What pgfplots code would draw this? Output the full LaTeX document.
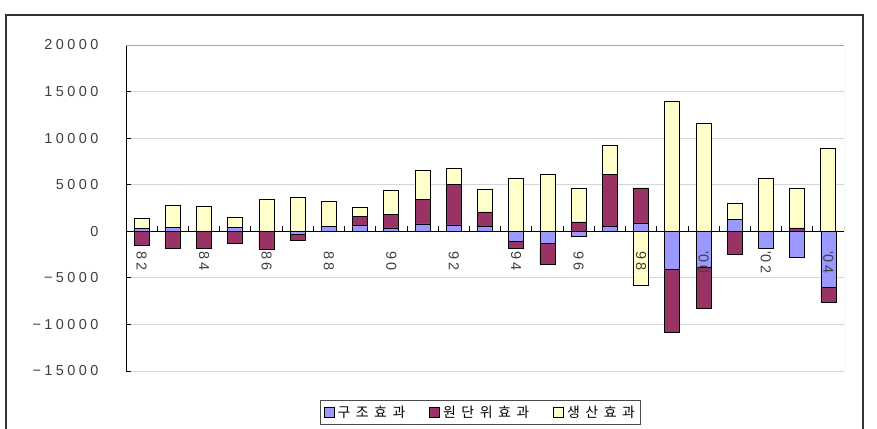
\documentclass[border=0pt]{standalone}
\usepackage{fontspec}
\setmainfont{Liberation Sans}
\newfontfamily\tickfont[LetterSpace=24]{Liberation Sans}
\newfontfamily\krfont{Noto Sans CJK KR}
\usepackage{pgfplots}
\usepackage{pgfplotstable}
\pgfplotsset{compat=1.18}
\definecolor{cblue}{HTML}{9999FF}
\definecolor{cmag}{HTML}{993366}
\definecolor{cyel}{HTML}{FFFFCC}
\definecolor{gridc}{HTML}{D4D4D4}
\definecolor{borderc}{HTML}{A6A6A6}
\definecolor{txt}{HTML}{404040}
\newcommand\ks{\kern5.5bp}

\pgfplotstableread{
x bp mp yp
0 350 0 1010
1 430 0 2330
2 0 0 2720
3 430 0 1110
4 0 0 3470
5 0 0 3650
6 500 0 2720
7 640 970 930
8 360 1430 2650
9 790 2610 3110
10 680 4330 1790
11 500 1580 2430
12 0 0 5650
13 0 0 6160
14 0 1000 3650
15 540 5540 3150
16 900 3750 0
17 0 0 13920
18 0 0 11600
19 1250 0 1720
20 0 0 5730
21 0 360 4290
22 0 0 8950
}\pos

\pgfplotstableread{
x bn mn yn
0 0 -1500 0
1 0 -1830 0
2 0 -1830 0
3 0 -1290 0
4 0 -1930 0
5 -300 -670 0
6 0 0 0
7 0 0 0
8 0 0 0
9 0 0 0
10 0 0 0
11 0 0 0
12 -1110 -680 0
13 -1250 -2260 0
14 -540 0 0
15 0 0 0
16 0 0 -5800
17 -4040 -6770 0
18 -3830 -4470 0
19 0 -2430 0
20 -1790 0 0
21 -2790 0 0
22 -5980 -1610 0
}\neg

\begin{document}
\begin{tikzpicture}
\useasboundingbox (0,0) rectangle (877bp,429bp);
% outer chart frame
\draw[line width=1.4bp, color=black!80] (6bp,-2bp) -- (6bp,414bp) -- (863bp,414bp) -- (863bp,-2bp);

\begin{axis}[
  at={(126bp,58bp)}, anchor=south west,
  scale only axis, width=718bp, height=326bp,
  xmin=-0.5, xmax=22.5, ymin=-15000, ymax=20000,
  axis x line=none, axis y line*=left,
  y axis line style={black, line width=0.8bp},
  ytick={-15000,-10000,...,20000},
  yticklabels={−15000,−10000,−5000,0,5000,10000,15000,20000},
  scaled y ticks=false,
  ymajorgrids, grid style={gridc, line width=0.8bp},
  major tick length=5bp, ytick style={black, line width=0.8bp},
  tick align=inside,
  yticklabel style={font=\tickfont\fontsize{14.5}{14.5}\selectfont, text=txt, xshift=-24bp},
  ybar stacked, bar width=15bp,
  legend style={at={(0.4935,-0.127)}, anchor=center, legend columns=-1,
    draw=black!70, line width=0.8bp, font=\krfont\fontsize{14}{14}\selectfont,
    inner xsep=3bp, inner ysep=3bp,
    /tikz/every odd column/.append style={column sep=1bp},
    /tikz/every even column/.append style={column sep=22bp}},
  legend image code/.code={\draw[#1, draw=black, line width=0.8bp] (0bp,-5bp) rectangle (10bp,5bp);},
]
\draw[borderc, line width=0.8bp] (rel axis cs:0,0) -- (rel axis cs:1,0) -- (rel axis cs:1,1) -- (rel axis cs:0,1);
\addplot[fill=cblue, draw=black, line width=0.8bp] table[x=x, y=bp] {\pos};
\addplot[fill=cmag, draw=black, line width=0.8bp] table[x=x, y=mp] {\pos};
\addplot[fill=cyel, draw=black, line width=0.8bp] table[x=x, y=yp] {\pos};
\legend{구\ks 조\ks 효\ks 과, 원\ks 단\ks 위\ks 효\ks 과, 생\ks 산\ks 효\ks 과}
\end{axis}

\begin{axis}[
  at={(126bp,58bp)}, anchor=south west,
  scale only axis, width=718bp, height=326bp,
  xmin=-0.5, xmax=22.5, ymin=-15000, ymax=20000,
  axis x line*=middle, axis y line=none,
  x axis line style={black, line width=0.9bp},
  axis on top,
  xtick={0,2,...,22},
  xticklabels={82,84,86,88,90,92,94,96,98,\mbox{\textquotesingle 00},\mbox{\textquotesingle 02},\mbox{\textquotesingle 04}},
  major tick length=0pt,
  xticklabel style={font=\tickfont\fontsize{14.5}{14.5}\selectfont, text=txt, rotate=-90, anchor=west, inner sep=1bp, xshift=19bp},
  ybar stacked, bar width=15bp,
]
\addplot[fill=cblue, draw=black, line width=0.8bp] table[x=x, y=bn] {\neg};
\addplot[fill=cmag, draw=black, line width=0.8bp] table[x=x, y=mn] {\neg};
\addplot[fill=cyel, draw=black, line width=0.8bp] table[x=x, y=yn] {\neg};
\pgfplotsinvokeforeach{0.5,1.5,...,22.5}{
  \draw[black, line width=0.8bp] (axis cs:#1,0) -- ++(0bp,5bp);
}
\end{axis}
\end{tikzpicture}
\end{document}
